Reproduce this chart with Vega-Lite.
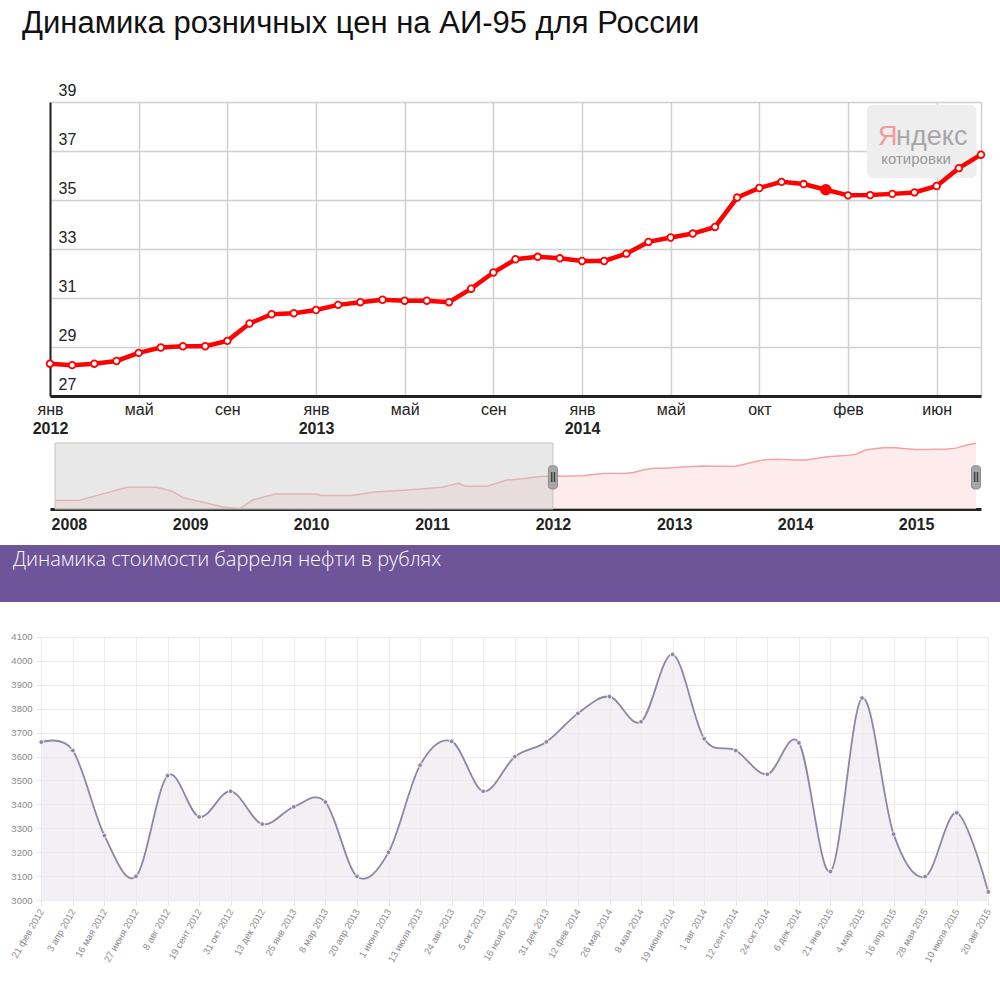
{
  "$schema": "https://vega.github.io/schema/vega-lite/v6.json",
  "padding": 0,
  "background": "white",
  "spacing": 0,
  "bounds": "flush",
  "config": {"view": {"stroke": null, "fill": "white"}, "font": "Liberation Sans"},
  "datasets": {
    "fuel": [
      {"date": "2007-11-20", "price": 22.0},
      {"date": "2008-01-30", "price": 22.0},
      {"date": "2008-02-17", "price": 22.43},
      {"date": "2008-06-25", "price": 25.43},
      {"date": "2008-09-23", "price": 25.43},
      {"date": "2008-11-07", "price": 24.4},
      {"date": "2008-12-13", "price": 22.69},
      {"date": "2009-02-02", "price": 21.66},
      {"date": "2009-04-11", "price": 20.31},
      {"date": "2009-06-01", "price": 19.95},
      {"date": "2009-07-09", "price": 22.18},
      {"date": "2009-09-16", "price": 23.71},
      {"date": "2010-01-15", "price": 23.71},
      {"date": "2010-02-03", "price": 23.28},
      {"date": "2010-05-04", "price": 23.28},
      {"date": "2010-07-12", "price": 24.22},
      {"date": "2010-10-21", "price": 24.74},
      {"date": "2011-01-30", "price": 25.43},
      {"date": "2011-03-23", "price": 26.45},
      {"date": "2011-04-12", "price": 25.68},
      {"date": "2011-06-16", "price": 25.68},
      {"date": "2011-08-15", "price": 27.3},
      {"date": "2011-10-02", "price": 27.63},
      {"date": "2011-11-21", "price": 28.2},
      {"n": 0, "date": "2012-01-01", "price": 28.32},
      {"n": 1, "date": "2012-02-01", "price": 28.26},
      {"n": 2, "date": "2012-03-01", "price": 28.32},
      {"n": 3, "date": "2012-04-01", "price": 28.43},
      {"n": 4, "date": "2012-05-01", "price": 28.76},
      {"n": 5, "date": "2012-06-01", "price": 28.98},
      {"n": 6, "date": "2012-07-01", "price": 29.03},
      {"n": 7, "date": "2012-08-01", "price": 29.03},
      {"n": 8, "date": "2012-09-01", "price": 29.25},
      {"n": 9, "date": "2012-10-01", "price": 29.96},
      {"n": 10, "date": "2012-11-01", "price": 30.34},
      {"n": 11, "date": "2012-12-01", "price": 30.38},
      {"n": 12, "date": "2013-01-01", "price": 30.51},
      {"n": 13, "date": "2013-02-01", "price": 30.72},
      {"n": 14, "date": "2013-03-01", "price": 30.83},
      {"n": 15, "date": "2013-04-01", "price": 30.93},
      {"n": 16, "date": "2013-05-01", "price": 30.89},
      {"n": 17, "date": "2013-06-01", "price": 30.89},
      {"n": 18, "date": "2013-07-01", "price": 30.83},
      {"n": 19, "date": "2013-08-01", "price": 31.38},
      {"n": 20, "date": "2013-09-01", "price": 32.04},
      {"n": 21, "date": "2013-10-01", "price": 32.58},
      {"n": 22, "date": "2013-11-01", "price": 32.68},
      {"n": 23, "date": "2013-12-01", "price": 32.62},
      {"n": 24, "date": "2014-01-01", "price": 32.51},
      {"n": 25, "date": "2014-02-01", "price": 32.51},
      {"n": 26, "date": "2014-03-01", "price": 32.81},
      {"n": 27, "date": "2014-04-01", "price": 33.29},
      {"n": 28, "date": "2014-05-01", "price": 33.47},
      {"n": 29, "date": "2014-06-01", "price": 33.63},
      {"n": 30, "date": "2014-07-01", "price": 33.9},
      {"n": 31, "date": "2014-08-01", "price": 35.1},
      {"n": 32, "date": "2014-09-01", "price": 35.49},
      {"n": 33, "date": "2014-10-01", "price": 35.74},
      {"n": 34, "date": "2014-11-01", "price": 35.65},
      {"n": 35, "date": "2014-12-01", "price": 35.42},
      {"n": 36, "date": "2015-01-01", "price": 35.19},
      {"n": 37, "date": "2015-02-01", "price": 35.2},
      {"n": 38, "date": "2015-03-01", "price": 35.25},
      {"n": 39, "date": "2015-04-01", "price": 35.31},
      {"n": 40, "date": "2015-05-01", "price": 35.57},
      {"n": 41, "date": "2015-06-01", "price": 36.3},
      {"n": 42, "date": "2015-07-01", "price": 36.85}
    ],
    "oil": [
      {"d": "21 фев 2012", "v": 3660},
      {"d": "3 апр 2012", "v": 3625},
      {"d": "16 мая 2012", "v": 3270},
      {"d": "27 июня 2012", "v": 3100},
      {"d": "8 авг 2012", "v": 3520},
      {"d": "19 сент 2012", "v": 3348},
      {"d": "31 окт 2012", "v": 3455},
      {"d": "13 дек 2012", "v": 3318},
      {"d": "25 янв 2013", "v": 3390},
      {"d": "8 мар 2013", "v": 3410},
      {"d": "20 апр 2013", "v": 3100},
      {"d": "1 июня 2013", "v": 3200},
      {"d": "13 июля 2013", "v": 3564},
      {"d": "24 авг 2013", "v": 3663},
      {"d": "5 окт 2013", "v": 3455},
      {"d": "16 нояб 2013", "v": 3599},
      {"d": "31 дек 2013", "v": 3661},
      {"d": "12 фев 2014", "v": 3780},
      {"d": "26 мар 2014", "v": 3850},
      {"d": "8 мая 2014", "v": 3745},
      {"d": "19 июня 2014", "v": 4026},
      {"d": "1 авг 2014", "v": 3674},
      {"d": "12 сент 2014", "v": 3625},
      {"d": "24 окт 2014", "v": 3526},
      {"d": "6 дек 2014", "v": 3657},
      {"d": "21 янв 2015", "v": 3120},
      {"d": "4 мар 2015", "v": 3844},
      {"d": "16 апр 2015", "v": 3276},
      {"d": "28 мая 2015", "v": 3099},
      {"d": "10 июля 2015", "v": 3365},
      {"d": "20 авг 2015", "v": 3035}
    ]
  },
  "vconcat": [
    {
      "width": 1000,
      "height": 440,
      "title": {"text": "Динамика розничных цен на АИ-95 для России", "anchor": "start", "frame": "group", "orient": "top", "offset": -64, "baseline": "alphabetic", "dx": 22, "fontSize": 31, "fontWeight": "normal", "color": "#111111", "font": "Liberation Sans"},
      "layer": [
        {
          "data": {"values": [{}]},
          "mark": {"type": "rect", "fill": "#eeeeee", "cornerRadius": 6},
          "encoding": {
            "x": {"datum": 36.85, "type": "quantitative", "axis": null},
            "x2": {"datum": 41.8},
            "y": {"datum": 38.88, "type": "quantitative"},
            "y2": {"datum": 35.9}
          }
        },
        {
          "data": {"values": [{}]},
          "mark": {"type": "text", "text": "Я", "align": "left", "baseline": "alphabetic", "fontSize": 27, "font": "Liberation Sans", "color": "#f29a9a"},
          "encoding": {
            "x": {"datum": 37.35, "type": "quantitative", "axis": null},
            "y": {"datum": 37.24, "type": "quantitative"}
          }
        },
        {
          "data": {"values": [{}]},
          "mark": {"type": "text", "text": "ндекс", "align": "left", "baseline": "alphabetic", "fontSize": 27, "font": "Liberation Sans", "color": "#a8a8a8"},
          "encoding": {
            "x": {"datum": 38.17, "type": "quantitative", "axis": null},
            "y": {"datum": 37.24, "type": "quantitative"}
          }
        },
        {
          "data": {"values": [{}]},
          "mark": {"type": "text", "text": "котировки", "align": "left", "baseline": "alphabetic", "fontSize": 15, "font": "Liberation Sans", "color": "#999999", "letterSpacing": 1},
          "encoding": {
            "x": {"datum": 37.5, "type": "quantitative", "axis": null},
            "y": {"datum": 36.47, "type": "quantitative"}
          }
        },
        {
          "data": {"name": "fuel"},
          "transform": [{"filter": "isValid(datum.n)"}],
          "mark": {"type": "line", "color": "#ff0000", "strokeWidth": 4.5},
          "encoding": {
            "x": {
              "field": "n", "type": "quantitative",
              "scale": {"domain": [0, 42], "range": [50, 981], "nice": false, "zero": false},
              "axis": {"orient": "top", "offset": -396, "values": [0, 4, 8, 12, 16, 20, 24, 28, 32, 36, 40, 42], "labelExpr": "datum.value > 40 ? '' : ['янв','май','сен','янв','май','сен','янв','май','окт','фев','июн'][datum.value / 4]", "grid": true, "gridColor": "#d0d0d0", "gridWidth": 1.5, "domain": true, "domainColor": "#222222", "domainWidth": 3, "ticks": false, "tickSize": 0, "labelPadding": -5, "labelFontSize": 16, "labelColor": "#222222", "labelBaseline": "top", "labelFlush": false, "labelOverlap": false, "title": null}
            },
            "y": {
              "field": "price", "type": "quantitative",
              "scale": {"domain": [27, 39], "range": [396, 102], "nice": false, "zero": false},
              "axis": {"orient": "left", "offset": -50, "values": [27, 29, 31, 33, 35, 37, 39], "grid": true, "gridColor": "#d0d0d0", "gridWidth": 1.5, "domainColor": "#222222", "domainWidth": 2, "ticks": false, "tickSize": 0, "labelAlign": "left", "labelBaseline": "alphabetic", "labelPadding": -8, "labelOffset": -7, "labelFontSize": 16, "labelColor": "#222222", "labelFlush": false, "labelOverlap": false, "title": null}
            }
          }
        },
        {
          "data": {"name": "fuel"},
          "transform": [{"filter": "isValid(datum.n)"}],
          "mark": {"type": "point", "filled": true, "stroke": "#ff0000", "strokeWidth": 1.8, "opacity": 1},
          "encoding": {
            "x": {
              "field": "n", "type": "quantitative",
              "axis": {"orient": "top", "offset": -396, "values": [0, 12, 24], "labelExpr": "['2012','2013','2014'][datum.value / 12]", "grid": false, "domain": false, "ticks": false, "tickSize": 0, "labelPadding": -24, "labelFontSize": 16, "labelFontWeight": "bold", "labelColor": "#222222", "labelBaseline": "top", "labelFlush": false, "labelOverlap": false, "title": null}
            },
            "y": {"field": "price", "type": "quantitative"},
            "fill": {"condition": {"test": "datum.n === 35", "value": "#ff0000"}, "value": "#ffffff"},
            "size": {"condition": {"test": "datum.n === 35", "value": 95}, "value": 44}
          }
        }
      ],
      "resolve": {"axis": {"x": "independent"}}
    },
    {
      "width": 1000,
      "height": 105,
      "layer": [
        {
          "data": {"name": "fuel"},
          "mark": {"type": "area", "fill": "#fde3e3", "line": {"stroke": "#f3a3a3", "strokeWidth": 1.5}},
          "encoding": {
            "x": {
              "field": "date", "type": "temporal",
              "scale": {"type": "utc", "domain": [{"year": 2007, "month": 11, "date": 20, "utc": true}, {"year": 2015, "month": 7, "date": 1, "utc": true}], "range": [50, 981], "nice": false},
              "axis": {"orient": "top", "offset": -69, "values": [{"year": 2008, "utc": true}, {"year": 2009, "utc": true}, {"year": 2010, "utc": true}, {"year": 2011, "utc": true}, {"year": 2012, "utc": true}, {"year": 2013, "utc": true}, {"year": 2014, "utc": true}, {"year": 2015, "utc": true}], "format": "%Y", "grid": false, "domainColor": "#222222", "domainWidth": 3, "ticks": false, "tickSize": 0, "labelPadding": -7, "labelFontSize": 16, "labelFontWeight": "bold", "labelColor": "#222222", "labelBaseline": "top", "labelFlush": false, "labelOverlap": false, "title": null}
            },
            "y": {
              "field": "price", "type": "quantitative",
              "scale": {"domain": [19.8, 36.9], "range": [69, 3], "nice": false, "zero": false},
              "axis": null
            },
            "y2": {"datum": 19.8}
          }
        },
        {
          "data": {"values": [{}]},
          "mark": {"type": "rect", "fill": "#cccccc", "fillOpacity": 0.45, "stroke": "#c4c4c4", "strokeWidth": 1},
          "encoding": {
            "x": {"datum": {"year": 2007, "month": 11, "date": 20, "utc": true}, "type": "temporal"},
            "x2": {"datum": {"year": 2012, "month": 1, "date": 1, "utc": true}},
            "y": {"datum": 36.9, "type": "quantitative"},
            "y2": {"datum": 19.8}
          }
        },
        {
          "data": {"values": [{"date": "2012-01-01"}, {"date": "2015-07-01"}]},
          "mark": {"type": "bar", "width": 9, "cornerRadius": 3, "fill": "#a6a6a6", "stroke": "#8c8c8c", "strokeWidth": 1},
          "encoding": {
            "x": {"field": "date", "type": "temporal"},
            "y": {"datum": 25.0, "type": "quantitative"},
            "y2": {"datum": 31.0}
          }
        },
        {
          "data": {"values": [{"date": "2012-01-01"}, {"date": "2015-07-01"}]},
          "mark": {"type": "text", "text": "||", "fontSize": 10, "fontWeight": "bold", "color": "#333333", "baseline": "middle", "align": "center"},
          "encoding": {
            "x": {"field": "date", "type": "temporal"},
            "y": {"datum": 28.0, "type": "quantitative"}
          }
        }
      ]
    },
    {
      "width": 1000,
      "height": 57,
      "view": {"fill": "#6e5498", "stroke": null},
      "title": {"text": "Динамика стоимости барреля нефти в рублях", "anchor": "start", "frame": "group", "orient": "top", "offset": -41, "baseline": "alphabetic", "dx": 13, "fontSize": 20, "fontWeight": 300, "color": "#ffffff", "font": "Open Sans"},
      "data": {"values": [{}]},
      "mark": {"type": "text", "text": ""}
    },
    {
      "width": 1000,
      "height": 381,
      "data": {"name": "oil"},
      "encoding": {
        "x": {
          "field": "d", "type": "ordinal", "sort": null,
          "scale": {"type": "point", "range": [41.3, 988.3], "padding": 0},
          "axis": {"orient": "top", "offset": -298.3, "labelAngle": -60, "labelAlign": "right", "labelBaseline": "middle", "ticks": true, "tickSize": -5, "labelPadding": -4, "tickColor": "#e4e4e4", "grid": true, "gridColor": "#ececec", "domain": false, "labelFontSize": 9.5, "labelColor": "#8a8a8a", "labelOverlap": false, "title": null}
        },
        "y": {
          "field": "v", "type": "quantitative",
          "scale": {"domain": [3000, 4100], "range": [298.3, 34.7], "nice": false, "zero": false},
          "axis": {"orient": "left", "offset": -41, "values": [3000, 3100, 3200, 3300, 3400, 3500, 3600, 3700, 3800, 3900, 4000, 4100], "format": "d", "tickSize": 5, "tickColor": "#e4e4e4", "labelPadding": 4, "labelFontSize": 9.5, "labelColor": "#8a8a8a", "grid": true, "gridColor": "#ececec", "domain": false, "labelFlush": false, "labelOverlap": false, "title": null}
        }
      },
      "layer": [
        {
          "mark": {"type": "area", "interpolate": "cardinal", "fill": "#ece9f1", "line": {"stroke": "#8e86a3", "strokeWidth": 1.8}},
          "encoding": {"y2": {"datum": 3000}}
        },
        {
          "mark": {"type": "point", "filled": true, "size": 22, "color": "#8e86a3", "stroke": "#ffffff", "strokeWidth": 0.8, "opacity": 1}
        }
      ]
    }
  ]
}
